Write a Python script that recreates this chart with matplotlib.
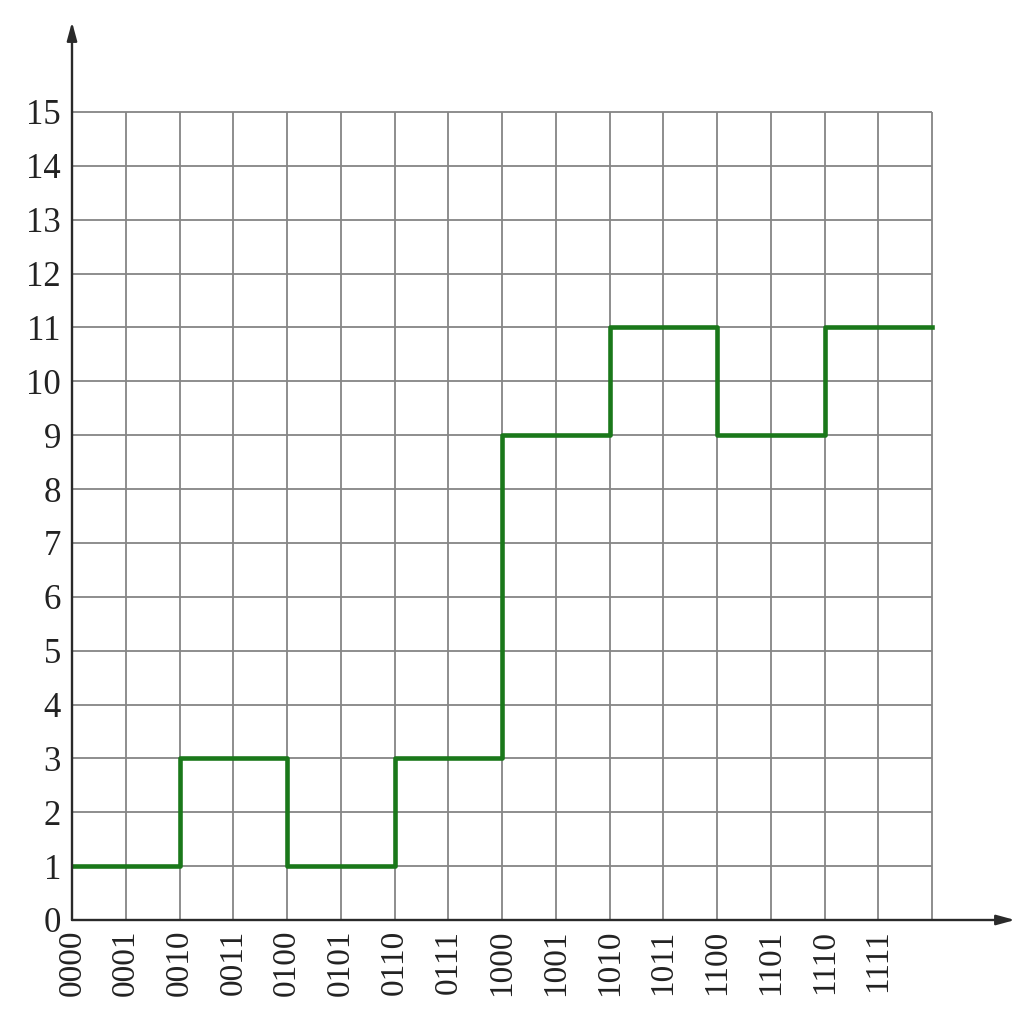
import numpy as np
import matplotlib.pyplot as plt

# binary input codes and the output level held for each code
codes = ['0000', '0001', '0010', '0011', '0100', '0101', '0110', '0111',
         '1000', '1001', '1010', '1011', '1100', '1101', '1110', '1111']
levels = [1, 1, 3, 3, 1, 1, 3, 3, 9, 9, 11, 11, 9, 9, 11, 11]
y_ticks = list(range(16))

serif = ['Liberation Serif', 'DejaVu Serif']

fig = plt.figure(figsize=(10.23, 10.34), dpi=100)
ax = fig.add_axes([72 / 1023, 1 - 920 / 1034, (1015 - 72) / 1023, (920 - 22) / 1034])
n = len(codes)
ax.set_xlim(0, n * (1015 - 72) / (932 - 72))
ax.set_ylim(0, 15 * (920 - 22) / (920 - 112))

# grid
grid_col = '#858585'
ax.vlines(np.arange(1, n + 1), 0, 15, colors=grid_col, lw=1.3, zorder=1)
ax.hlines(np.arange(1, 16), 0, n, colors=grid_col, lw=1.3, zorder=1)

# step curve
xs = np.arange(n + 1)
ys = levels + [levels[-1]]
ax.step(xs, ys, where='post', color='#1a781a', lw=3.3, zorder=3)

# axes with arrows
for s in ax.spines.values():
    s.set_visible(False)
xmax = ax.get_xlim()[1]
ymax = ax.get_ylim()[1]
arrow = dict(arrowstyle='-|>,head_length=1.1,head_width=0.3', color='#2a2a2a', lw=1.7,
             shrinkA=0, shrinkB=0)
ax.annotate('', xy=(xmax, 0), xytext=(0, 0), arrowprops=arrow, annotation_clip=False)
ax.annotate('', xy=(0, ymax), xytext=(0, 0), arrowprops=arrow, annotation_clip=False)

ax.set_xticks(np.arange(n))
ax.set_xticklabels(codes, rotation=90, fontfamily=serif, fontsize=24, va='top')
ax.set_yticks(y_ticks)
ax.set_yticklabels([str(v) for v in y_ticks], fontfamily=serif, fontsize=25)
ax.tick_params(axis='x', length=0, pad=7, colors='#222222')
ax.tick_params(axis='y', length=0, pad=8, colors='#222222')

fig.savefig('out.png', dpi=100)
